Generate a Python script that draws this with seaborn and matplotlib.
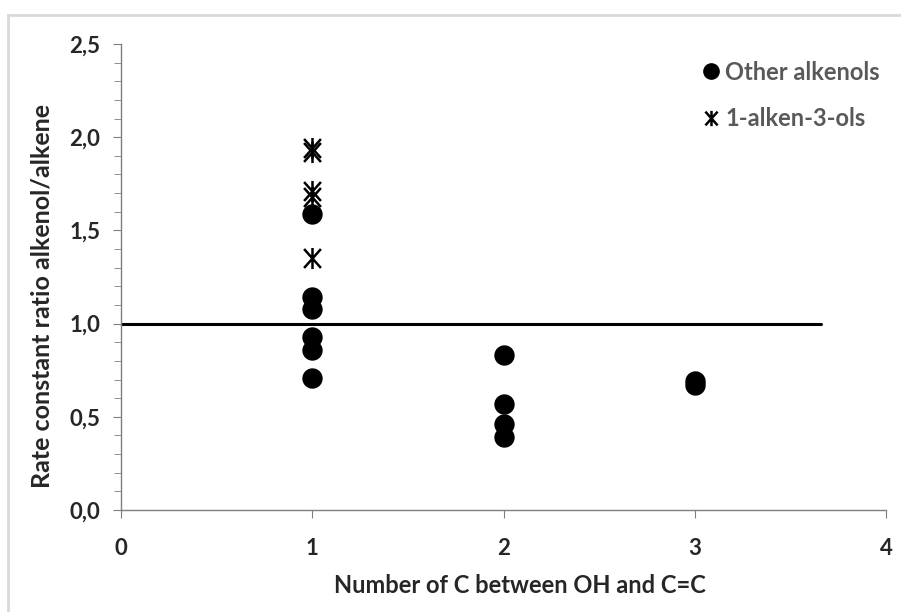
import pandas as pd
import matplotlib.pyplot as plt
import seaborn as sns
from matplotlib.lines import Line2D
from matplotlib.patches import Rectangle
from matplotlib.path import Path
from matplotlib.ticker import MultipleLocator, FuncFormatter

# data
other_x = [1, 1, 1, 1, 1, 1, 2, 2, 2, 2, 3, 3]
other_y = [0.71, 0.86, 0.93, 1.08, 1.14, 1.59, 0.83, 0.57, 0.46, 0.39, 0.67, 0.69]
ols_x = [1, 1, 1, 1, 1]
ols_y = [1.35, 1.68, 1.71, 1.92, 1.94]
ref_line_x = [0, 3.66]
ref_line_y = [1.0, 1.0]

df = pd.DataFrame({
    'n_c': other_x + ols_x,
    'ratio': other_y + ols_y,
    'group': ['Other alkenols'] * len(other_x) + ['1-alken-3-ols'] * len(ols_x),
})

# asterisk: an X with a vertical bar through it
star = Path([(0, -1), (0, 1), (-0.8, -0.9), (0.8, 0.9), (-0.8, 0.9), (0.8, -0.9)],
            [Path.MOVETO, Path.LINETO, Path.MOVETO, Path.LINETO, Path.MOVETO, Path.LINETO])

sns.set_style('ticks')
plt.rcParams['font.family'] = ['Lato', 'DejaVu Sans']

fig = plt.figure(figsize=(9.01, 6.12), dpi=100)
ax = fig.add_axes([0.1343, 0.1667, 0.8491, 0.7614])

# light frame around the chart area
fig.patches.append(Rectangle((8 / 901, -0.1), 1.2, 1 - 15 / 612 + 0.1,
                             transform=fig.transFigure, fill=False,
                             edgecolor='#d9d9d9', linewidth=2))

ax.plot(ref_line_x, ref_line_y, color='black', linewidth=2.2, zorder=1)

sns.scatterplot(data=df[df.group == 'Other alkenols'], x='n_c', y='ratio',
                marker='o', s=215, color='black', edgecolor='black',
                linewidth=0, ax=ax, zorder=3, legend=False)
sns.scatterplot(data=df[df.group == '1-alken-3-ols'], x='n_c', y='ratio',
                marker=star, s=230, color='black', edgecolor='black',
                linewidth=1.8, ax=ax, zorder=3, legend=False)

ax.set_xlim(0, 4)
ax.set_ylim(0, 2.5)
ax.xaxis.set_major_locator(MultipleLocator(1))
ax.yaxis.set_major_locator(MultipleLocator(0.5))
ax.yaxis.set_minor_locator(MultipleLocator(0.1))
ax.yaxis.set_major_formatter(FuncFormatter(lambda v, p: f'{v:.1f}'.replace('.', ',')))

for s in ['top', 'right']:
    ax.spines[s].set_visible(False)
for s in ['left', 'bottom']:
    ax.spines[s].set_color('#7f7f7f')
    ax.spines[s].set_linewidth(1.0)
ax.tick_params(axis='both', which='both', direction='out', color='#7f7f7f')
ax.tick_params(axis='y', which='major', length=6, pad=9)
ax.tick_params(axis='y', which='minor', length=5)
ax.tick_params(axis='x', which='major', length=6, pad=14)
for lab in ax.get_xticklabels() + ax.get_yticklabels():
    lab.set_fontsize(16)
    lab.set_fontweight('bold')

ax.set_xlabel('Number of C between OH and C=C', fontsize=17, fontweight='bold')
ax.set_ylabel('Rate constant ratio alkenol/alkene', fontsize=18, fontweight='bold')
ax.xaxis.set_label_coords(0.522, -0.137)
ax.yaxis.set_label_coords(-0.088, 0.46)

handles = [
    Line2D([], [], marker='o', color='black', linestyle='none', markersize=11),
    Line2D([], [], marker=star, color='black', linestyle='none',
           markersize=11, markeredgewidth=1.8),
]
leg = ax.legend(handles, ['Other alkenols', '1-alken-3-ols'], loc='upper right',
                frameon=False, fontsize=17, handletextpad=0.2, handlelength=0.8,
                labelspacing=1.0, bbox_to_anchor=(1.02, 1.01))
for t in leg.get_texts():
    t.set_color('#595959')
    t.set_fontweight('bold')

fig.savefig('out.png', dpi=100)
